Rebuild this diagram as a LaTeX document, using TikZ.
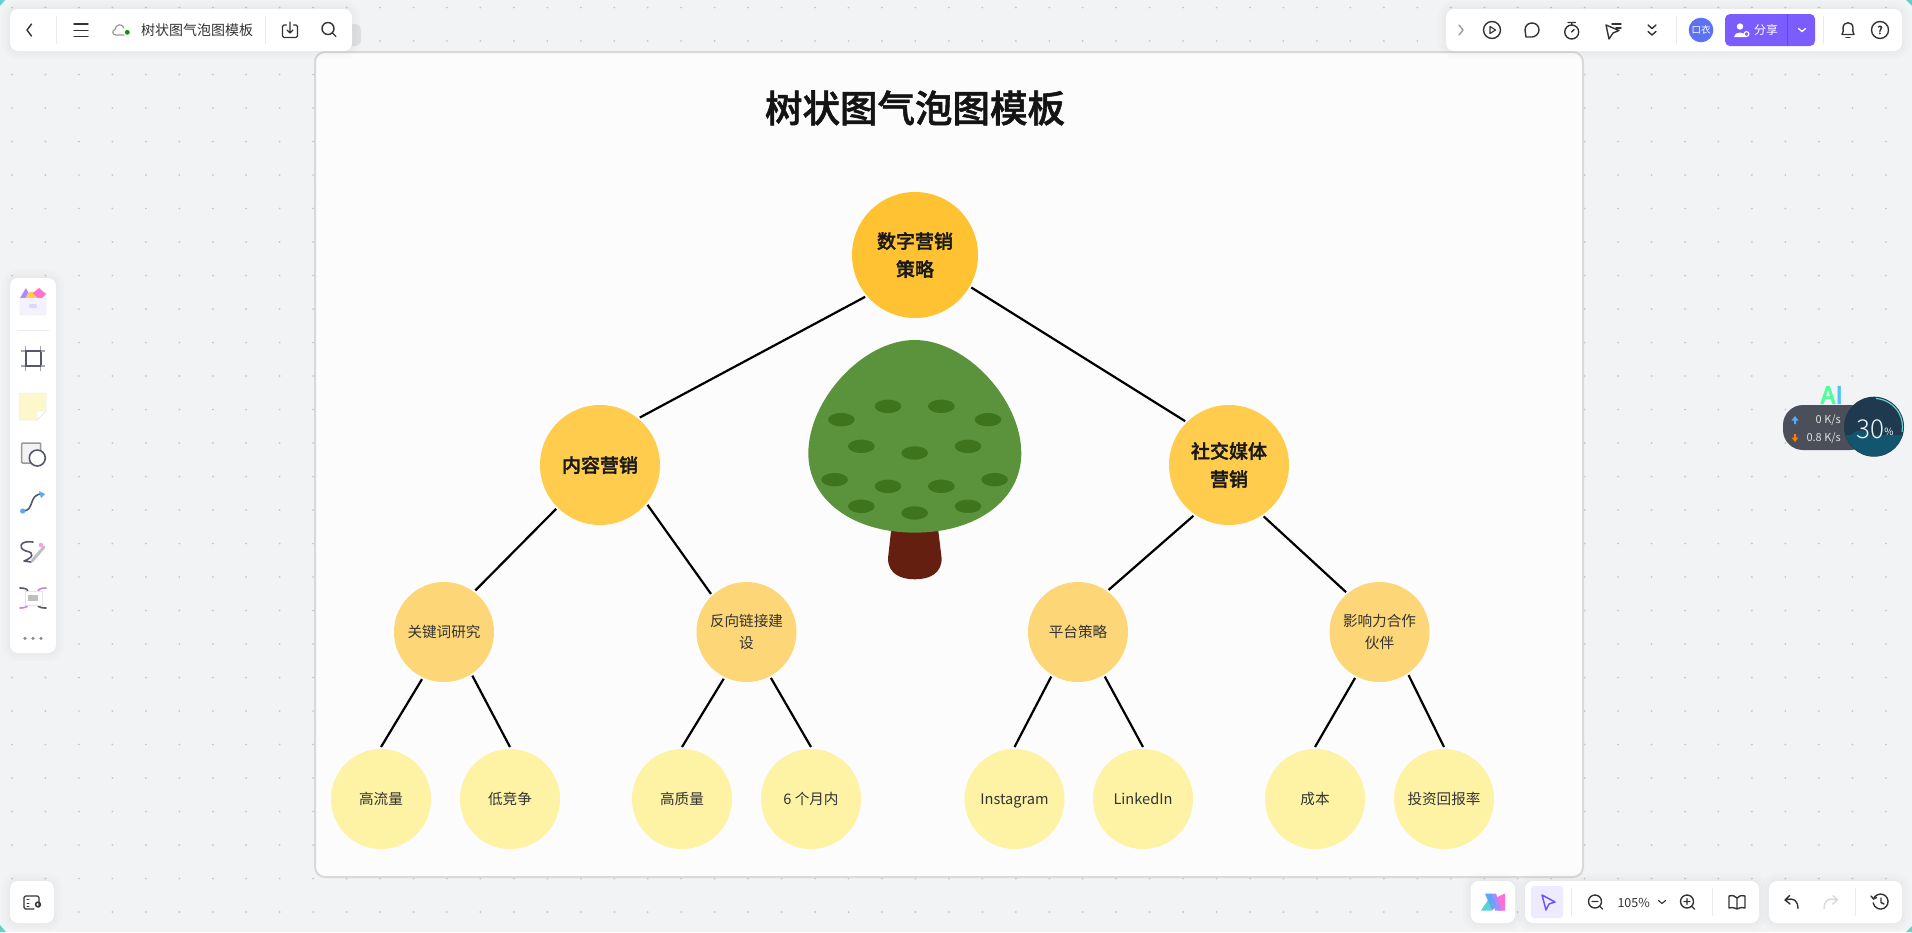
\documentclass[tikz,border=0pt]{standalone}
\usepackage{fontspec}
\setmainfont{Noto Sans CJK SC}[BoldFont={Noto Sans CJK SC Medium},BoldFeatures={FakeBold=1.5}]
\newfontfamily\thinnum{Noto Sans CJK SC Light}

\definecolor{fond}{HTML}{F2F3F5}
\definecolor{canvas}{HTML}{FCFCFC}
\definecolor{rootc}{HTML}{FFC233}
\definecolor{midc}{HTML}{FFCC4D}
\definecolor{subc}{HTML}{FDD677}
\definecolor{leafc}{HTML}{FEF2A5}
\definecolor{crown}{HTML}{5B923C}
\definecolor{spot}{HTML}{3D741C}
\definecolor{trunk}{HTML}{651F10}
\definecolor{ink}{HTML}{333333}
\definecolor{violet}{HTML}{7A5CFF}
\definecolor{avatarc}{HTML}{5B72F5}
\definecolor{pillc}{HTML}{4B4F5A}
\definecolor{gaugec}{HTML}{1F3A4F}
\definecolor{waterc}{HTML}{13556F}
\definecolor{edgec}{HTML}{5FD3C8}
\definecolor{lilac}{HTML}{A98BFF}
\definecolor{sun}{HTML}{FFCC4D}
\definecolor{rose}{HTML}{FF70D0}
\definecolor{note}{HTML}{FDF8CC}
\definecolor{slate}{HTML}{55586A}
\definecolor{skyc}{HTML}{5AA9F5}

\tikzset{
  bubble/.style={circle, inner sep=0pt, outer sep=2pt, align=center},
  rootbubble/.style={bubble, fill=rootc, minimum size=126pt, text=black!90, font=\fontsize{19}{28}\selectfont\bfseries},
  midbubble/.style={bubble, fill=midc, minimum size=120pt, text=black!90, font=\fontsize{19}{28}\selectfont\bfseries},
  subbubble/.style={bubble, fill=subc, minimum size=100pt, text=ink, font=\fontsize{14.6}{21.7}\selectfont},
  leafbubble/.style={bubble, fill=leafc, minimum size=100pt, text=ink, font=\fontsize{14.6}{21.7}\selectfont},
  latinleaf/.style={leafbubble, text height=13pt, text depth=2pt},
  branch/.style={draw=black, line width=2.2pt},
  uibox/.style={fill=white, rounded corners=8pt,
    preaction={draw=black, draw opacity=.012, line width=16pt},
    preaction={draw=black, draw opacity=.012, line width=9pt},
    preaction={draw=black, draw opacity=.012, line width=4pt}},
  icon/.style={draw=ink, line width=1.4pt, line cap=round, line join=round},
  toolicon/.style={draw=slate, line width=1.6pt, line cap=round, line join=round},
  sep/.style={draw=black!8, line width=1pt},
  uitext/.style={text=ink, inner sep=0pt, font=\fontsize{14}{16}\selectfont}
}

\begin{document}
\begin{tikzpicture}[x=1pt,y=-1pt]

\useasboundingbox (0,0) rectangle (1912,932);
\fill[fond] (0,0) rectangle (1912,932);

% corners of the screen
\fill[edgec] (0,0) -- (5,0) -- (0,6) -- cycle;
\fill[edgec] (1912,0) -- (1906,0) -- (1912,6) -- cycle;
\fill[edgec] (0,932) -- (6,932) -- (0,925) -- cycle;
\fill[edgec] (1912,932) -- (1906,932) -- (1912,926) -- cycle;

% dotted background
\foreach \X in {0,...,56}{
  \foreach \Y in {0,...,27}{
    \fill[black!22] ({12+33.46*\X},{7.5+33.5*\Y}) circle (1);
  }
}

% the board
\draw[fill=canvas, draw=black!15, line width=2pt, rounded corners=10pt] (315,52) rectangle (1583,877);
\node[inner sep=0pt, text=black!92, font=\fontsize{37.5}{44}\selectfont\bfseries] (title) at (915,108) {树状图气泡图模板};

% the tree
\begin{scope}[shift={(780,320)}, x=.3333pt, y=-.3333pt]
\fill[trunk] (334,625) -- (324,715) .. controls (324,760) and (360,778) .. (404,778)
  .. controls (450,778) and (485,760) .. (485,715) -- (474,625) -- cycle;
\fill[crown] (404,60) .. controls (560,60) and (724,240) .. (724,400)
  .. controls (724,540) and (590,638) .. (404,638)
  .. controls (218,638) and (85,540) .. (85,400)
  .. controls (85,240) and (248,60) .. (404,60) -- cycle;
\foreach \Spot in {(324,259),(484,259),(184,299),(624,299),(244,379),(564,379),(404,399),
  (164,479),(644,479),(324,499),(484,499),(244,559),(564,559),(404,579)}{
  \fill[spot] \Spot ellipse (40 and 20);
}
\end{scope}

% the bubbles
\node[rootbubble] (root) at (915,255) {数字营销\\策略};
\node[midbubble] (content) at (600,465) {内容营销};
\node[midbubble] (social) at (1229,465) {社交媒体\\营销};
\node[subbubble] (keyword) at (444,632) {关键词研究};
\node[subbubble] (backlink) at (746.5,632) {反向链接建\\设};
\node[subbubble] (platform) at (1078,632) {平台策略};
\node[subbubble] (influencer) at (1379.5,632) {影响力合作\\伙伴};
\node[leafbubble] (traffic) at (381,799) {高流量};
\node[leafbubble] (lowcomp) at (510,799) {低竞争};
\node[leafbubble] (quality) at (682,799) {高质量};
\node[leafbubble] (sixmonth) at (811,799) {6 个月内};
\node[latinleaf] (insta) at (1014.5,799) {Instagram};
\node[latinleaf] (linked) at (1143,799) {LinkedIn};
\node[leafbubble] (cost) at (1315,799) {成本};
\node[leafbubble] (roi) at (1444,799) {投资回报率};

% the branches
\draw[branch] (root.220) -- (content.50);
\draw[branch] (root.330) -- (social.135);
\draw[branch] (content.225) -- (keyword.53);
\draw[branch] (content.320) -- (backlink.133);
\draw[branch] (social.235) -- (platform.54);
\draw[branch] (social.304) -- (influencer.130);
\draw[branch] (keyword.245) -- (traffic.90);
\draw[branch] (keyword.303) -- (lowcomp.90);
\draw[branch] (backlink.244) -- (quality.90);
\draw[branch] (backlink.298) -- (sixmonth.90);
\draw[branch] (platform.239) -- (insta.90);
\draw[branch] (platform.301) -- (linked.90);
\draw[branch] (influencer.242) -- (cost.90);
\draw[branch] (influencer.304) -- (roi.90);

% top left toolbar
\fill[black!12, rounded corners=6pt] (340,24) rectangle (361,46);
\fill[uibox] (10,9) rectangle (352,51);
\draw[icon] (31.5,24) -- (27,30) -- (31.5,36);
\draw[sep] (56.7,16) -- (56.7,44);
\foreach \Y in {24,30.3,36.7}{
  \draw[icon] (74,\Y) -- (88,\Y);
}
\draw[draw=black!40, line width=1.2pt, line cap=round] (124,35) -- (116,35) .. controls (112,35) and (112,30) .. (115,29.5)
  .. controls (116,24) and (122,23) .. (124,28);
\fill[green!60!black] (127.3,32.3) circle (2.4);
\node[uitext] (boardname) at (197,30) {树状图气泡图模板};
\draw[sep] (265.3,16) -- (265.3,44);
\begin{scope}[shift={(290,31)}]
\draw[icon, rounded corners=1.5pt] (-3.5,-6) -- (-7.5,-6) -- (-7.5,6.5) -- (7.5,6.5) -- (7.5,-6) -- (3.5,-6);
\draw[icon] (0,-9) -- (0,2) (-3,-1) -- (0,2) -- (3,-1);
\end{scope}
\draw[icon] (328,28.5) circle (6) (332.5,33) -- (336,36.5);

% top right toolbar
\fill[uibox] (1446,9) rectangle (1902,51);
\draw[icon, draw=black!40] (1459,25) -- (1463,30) -- (1459,35);
\draw[icon] (1492,30) circle (8.5);
\draw[icon, line width=1.1pt] (1490,26.5) -- (1495.5,30) -- (1490,33.5) -- cycle;
\draw[icon] (1525,30) .. controls (1525,25) and (1529,23) .. (1532,23) .. controls (1536,23) and (1539,26) .. (1539,30)
  .. controls (1539,34) and (1535,37) .. (1532,37) -- (1526,37) .. controls (1526,34) and (1525,33) .. (1525,30) -- cycle;
\draw[icon] (1571.7,32) circle (7) (1568,22.5) -- (1575.5,22.5) (1571.7,22.5) -- (1571.7,25) (1571.7,32) -- (1574,29.5);
\draw[icon] (1606,25) -- (1619,30.5) -- (1613,33) -- (1609,39) -- cycle;
\draw[icon] (1612,24) -- (1621,24) (1616,28) -- (1621,28);
\draw[icon] (1648,25) -- (1652,28.5) -- (1656,25) (1648,31.5) -- (1652,35) -- (1656,31.5);
\draw[sep] (1676.7,16) -- (1676.7,44);
\node[circle, fill=avatarc, minimum size=24.6pt, inner sep=0pt, text=white, font=\fontsize{9.5}{10}\selectfont] (avatar) at (1701,30) {口衣};
\fill[violet, rounded corners=5pt] (1725,14) rectangle (1815,46);
\draw[violet!80!black, line width=1pt] (1787.3,14) -- (1787.3,46);
\fill[white] (1740,26.5) circle (3.2) (1734,37) .. controls (1734,31) and (1746,31) .. (1746,37) -- cycle;
\draw[white, line width=1.1pt] (1746.5,34) circle (2.4);
\node[uitext, text=white, font=\fontsize{12}{14}\selectfont] (share) at (1766,30) {分享};
\draw[white, line width=1.3pt, line cap=round] (1798.5,28.5) -- (1802,31.5) -- (1805.5,28.5);
\draw[sep] (1823.3,16) -- (1823.3,44);
\draw[icon] (1842,34.5) .. controls (1844,32) and (1843,30) .. (1843,28) .. controls (1843,21) and (1853,21) .. (1853,28)
  .. controls (1853,30) and (1852,32) .. (1854,34.5) -- cycle;
\draw[icon] (1846,37.5) -- (1850,37.5);
\draw[icon] (1880,30) circle (8.5);
\node[uitext, font=\fontsize{11}{12}\selectfont\bfseries] (help) at (1880,30) {?};

% left toolbar
\fill[uibox] (10,278) rectangle (56,653);
\fill[lilac] (20,298) -- (26,288) -- (31,298) -- cycle;
\fill[sun] (26,298) arc (180:360:6.5);
\fill[rose] (33,293) -- (39,288) -- (46,294) -- (40,300) -- cycle;
\fill[violet!8, draw=black!10, rounded corners=2pt] (20,298) rectangle (46,315);
\fill[violet!25, rounded corners=1pt] (29,304) rectangle (37,308);
\draw[sep] (17,330) -- (49,330);
\draw[draw=slate, line width=2pt] (25.5,351) rectangle (40.5,366);
\draw[draw=black!35, line width=1.2pt] (21,351) -- (25,351) (41,351) -- (45,351) (21,366) -- (25,366) (41,366) -- (45,366)
  (25.5,346) -- (25.5,350) (40.5,346) -- (40.5,350) (25.5,367) -- (25.5,371) (40.5,367) -- (40.5,371);
\fill[note, draw=black!10] (19,393) -- (46,393) -- (46,411) -- (37,420) -- (19,420) -- cycle;
\fill[white, draw=black!10] (46,411) -- (37,411) -- (37,420) -- cycle;
\draw[draw=black!40, fill=black!5, line width=1.5pt, rounded corners=1pt] (21.7,443) rectangle (40.7,463);
\draw[toolicon, fill=white] (37.3,458) circle (8);
\draw[toolicon] (23,511) .. controls (35,511) and (28,494) .. (42,494);
\fill[skyc] (22.7,511) circle (2.6) (39,491) -- (45,494) -- (41,498) -- cycle;
\draw[toolicon] (33,542) .. controls (20,540) and (17,548) .. (26,551) .. controls (36,553) and (32,558) .. (24,561) -- (31,562);
\draw[draw=black!25, line width=3pt, line cap=round] (32,561) -- (44,547);
\fill[rose!70] (41,545) circle (2.2);
\draw[toolicon] (20,588) .. controls (27,588) and (28,590) .. (29,593) (36,603) .. controls (37,606) and (39,608) .. (46,608);
\draw[toolicon, draw=lilac!70!rose] (46,588) .. controls (39,588) and (38,590) .. (37,593) (29,603) .. controls (28,606) and (27,608) .. (20,608);
\fill[white, draw=black!10] (25,591) rectangle (42,605);
\fill[black!25] (28,595) rectangle (38,601);
\foreach \X in {25,33,41}{
  \fill[black!45] (\X,638.3) circle (1.8);
}

% bottom left box
\fill[uibox] (10,881) rectangle (54,923);
\draw[icon, line width=1.2pt, rounded corners=1.5pt] (39,907) -- (39,896) -- (24,896) -- (24,909) -- (34,909);
\draw[icon, line width=1pt] (27,899.5) -- (29,899.5) (27,903) -- (29,903) (27,906) -- (29,906);
\draw[icon, line width=1.5pt] (38,904.5) circle (2.4);

% bottom right boxes
\fill[uibox] (1470.7,881) rectangle (1515,923);
\begin{scope}[shift={(1493,902)}]
\fill[rose] (2,-4) -- (12,-8.5) -- (12,8.5) -- (6,8.5) -- cycle;
\fill[lilac] (-3,-8.5) -- (3,-8.5) -- (9,8.5) -- (2,8.5) -- cycle;
\fill[edgec] (-5,-2) -- (-1,8.5) -- (-12,8.5) -- cycle;
\fill[skyc] (-8,-8.5) -- (-2,-8.5) -- (3,4) -- (-1,8.5) -- cycle;
\end{scope}
\fill[uibox] (1525,881) rectangle (1759,923);
\fill[violet!13, rounded corners=3pt] (1531,886) rectangle (1563,918);
\draw[icon, draw=violet!90!blue, line width=1.5pt] (1542,895) -- (1555,902) -- (1549,904) -- (1546,910) -- cycle;
\draw[sep] (1571.7,888) -- (1571.7,916);
\draw[icon] (1595,901.5) circle (6.5) (1599.8,906.3) -- (1602.5,909) (1592,901.5) -- (1598,901.5);
\node[uitext, font=\fontsize{12.5}{14}\selectfont] (zoomlevel) at (1633.7,902.7) {105\%};
\draw[icon, line width=1.1pt] (1658.5,900.5) -- (1662,903.5) -- (1665.5,900.5);
\draw[icon] (1687,901.5) circle (6.5) (1691.8,906.3) -- (1694.5,909) (1684,901.5) -- (1690,901.5) (1687,898.5) -- (1687,904.5);
\draw[sep] (1712.7,888) -- (1712.7,916);
\draw[icon] (1729,896) .. controls (1733,895) and (1735,896) .. (1737,898) .. controls (1739,896) and (1741,895) .. (1745,896)
  -- (1745,908) .. controls (1741,907) and (1739,908) .. (1737,909) .. controls (1735,908) and (1733,907) .. (1729,908) -- cycle (1737,898) -- (1737,909);
\fill[uibox] (1769,881) rectangle (1902,923);
\draw[icon] (1785,900) .. controls (1795,897) and (1798,902) .. (1798,908.5) (1789.5,895.5) -- (1785,900) -- (1790,904);
\draw[icon, draw=black!15] (1837.5,900) .. controls (1827,897) and (1824,902) .. (1824,908.5) (1833,895.5) -- (1837.5,900) -- (1832.5,904);
\draw[sep] (1855.3,888) -- (1855.3,916);
\draw[icon] (1873.5,899) arc (-160:170:7.5);
\draw[icon] (1871,896) -- (1873.5,899) -- (1876.5,897.5) (1881,898) -- (1881,902.5) -- (1884,904);

% network widget
\fill[pillc, rounded corners=20pt] (1783,405) rectangle (1870,450);
\node[inner sep=0pt, font=\fontsize{24}{26}\selectfont\bfseries] (ai) at (1831.7,395) {\textcolor{green!55!cyan!70}{A}\textcolor{cyan!70}{I}};
\fill[skyc] (1795,416) -- (1798.5,420.5) -- (1796,420.5) -- (1796,424) -- (1794,424) -- (1794,420.5) -- (1791.5,420.5) -- cycle;
\fill[orange] (1795,442) -- (1798.5,437.5) -- (1796,437.5) -- (1796,434) -- (1794,434) -- (1794,437.5) -- (1791.5,437.5) -- cycle;
\node[anchor=east, inner sep=0pt, text=black!12, font=\fontsize{11}{12}\selectfont] (upspeed) at (1841,420) {0 K/s};
\node[anchor=east, inner sep=0pt, text=black!12, font=\fontsize{11}{12}\selectfont] (downspeed) at (1841,438) {0.8 K/s};
\fill[gaugec] (1874,426.7) circle (30);
\begin{scope}
\clip (1874,426.7) circle (29.5);
\fill[waterc] (1840,435) rectangle (1910,460);
\fill[waterc] (1850,436) .. controls (1856,428) and (1866,430) .. (1872,436) -- cycle;
\end{scope}
\draw[edgec, line width=1.2pt] (1876,398.5) arc (-86:10:28.5);
\node[inner sep=0pt, text=white!90!cyan, font=\fontsize{26}{28}\thinnum] (load) at (1870,429) {30};
\node[inner sep=0pt, text=white!90!cyan, font=\fontsize{10}{12}\selectfont] (percent) at (1889,432) {\%};

\end{tikzpicture}
\end{document}
